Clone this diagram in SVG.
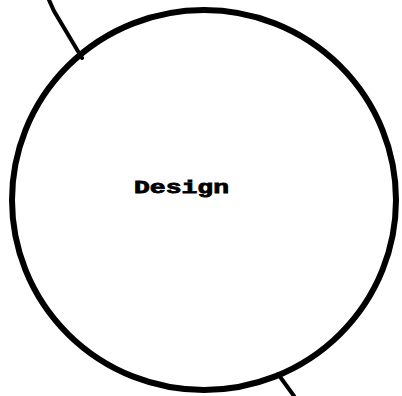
<svg xmlns="http://www.w3.org/2000/svg" width="402" height="396" viewBox="0 0 402 396">
<style>
.edge{fill:none;stroke:#000;stroke-width:4;stroke-linecap:round}
.shape{fill:none;stroke:#000;stroke-width:6}
.label{font-family:"Liberation Mono","DejaVu Sans Mono",monospace;font-weight:bold;font-size:19px;fill:#000;stroke:#000;stroke-width:0.8}
</style>
<rect width="402" height="396" fill="#fff"/>
<g id="connectors">
<path class="edge" d="M49,0 L54,11 L82,58"/>
<path class="edge" d="M278,374 L294,396"/>
</g>
<g id="design">
<ellipse class="shape" cx="204" cy="200" rx="192" ry="190"/>
<text class="label" x="134" y="193" textLength="95" lengthAdjust="spacingAndGlyphs">Design</text>
</g>
</svg>
